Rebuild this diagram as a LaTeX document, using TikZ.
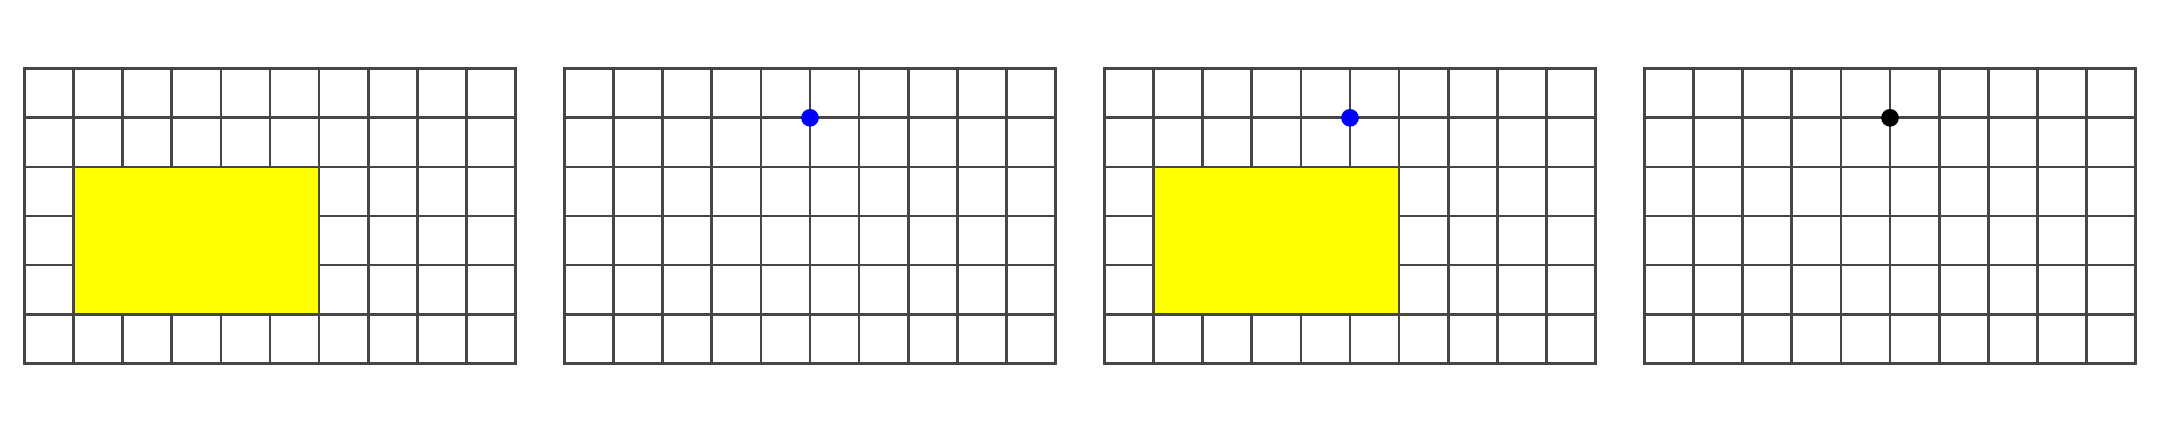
\documentclass[tikz,border=0pt]{standalone}
\definecolor{pureyellow}{RGB}{255,255,0}
\definecolor{pureblue}{RGB}{0,0,255}
\definecolor{gridgray}{RGB}{70,70,70}
\begin{document}
\begin{tikzpicture}[x=1cm,y=1cm,
  gridline/.style={draw=gridgray, line width=1.6pt, line cap=rect},
  region/.style={fill=pureyellow, draw=gridgray, line width=1.6pt},
  dotmark/.style={circle, inner sep=0pt, minimum size=0.36cm}]
\useasboundingbox (0,0) rectangle (44,8.8);
\foreach \ox in {0.5,11.5,22.5,33.5}{
  \draw[gridline, shift={(\ox,1.4)}] (0,0) grid (10,6);
}
\draw[region] (1.5,2.4) rectangle (6.5,5.4);
\draw[region] (23.5,2.4) rectangle (28.5,5.4);
\node[dotmark, fill=pureblue] (dotb) at (16.5,6.4) {};
\node[dotmark, fill=pureblue] (dotc) at (27.5,6.4) {};
\node[dotmark, fill=black] (dotd) at (38.5,6.4) {};
\end{tikzpicture}
\end{document}
